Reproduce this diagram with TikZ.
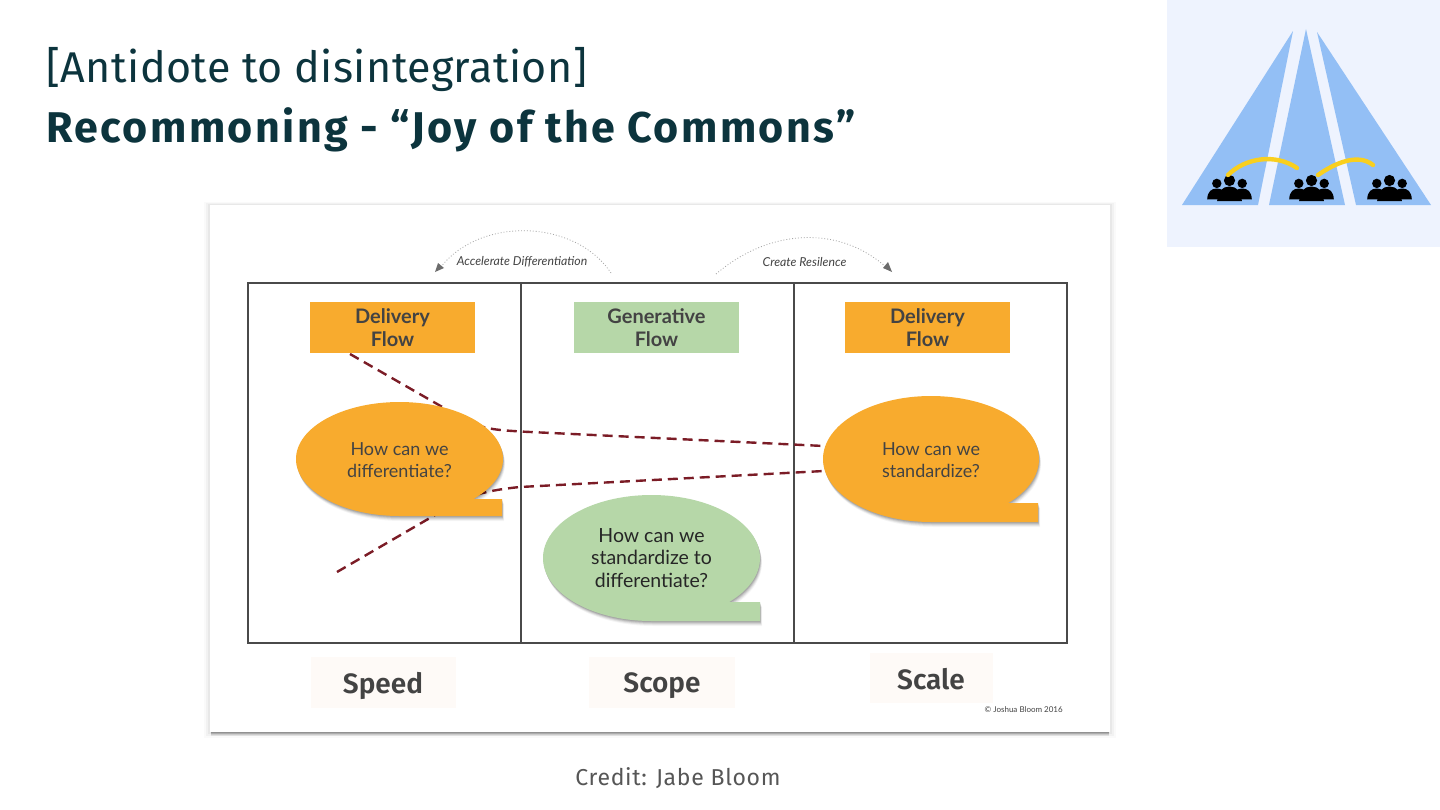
\documentclass[tikz,border=0pt]{standalone}
\usepackage{fontspec}
\setmainfont{Lato}
\newfontfamily\titlefont[LetterSpace=1.0]{Fira Sans}
\newfontfamily\creditfont[LetterSpace=3]{Fira Sans}
\newfontfamily\titlebold[LetterSpace=5.6]{Fira Sans}
\newfontfamily\labelfont{Fira Sans SemiBold}
\usetikzlibrary{shapes.geometric,arrows.meta}
\definecolor{orangeF}{HTML}{F8AB2E}
\definecolor{greenF}{HTML}{B6D7A8}
\definecolor{titleC}{HTML}{0C343D}
\definecolor{darkT}{HTML}{434343}
\definecolor{gridC}{HTML}{4A4A4A}
\definecolor{panelC}{HTML}{EEF3FE}
\definecolor{laneC}{HTML}{93BFF5}
\definecolor{paleC}{HTML}{FEFAF7}
\definecolor{dashC}{HTML}{7B1C26}
\definecolor{goldC}{HTML}{F9CF1E}
\newcommand{\fsz}[2]{\fontsize{\dimexpr#1pt*3/4\relax}{\dimexpr#2pt*3/4\relax}\selectfont}
\newcommand{\lowr}{\rule{0pt}{11.6pt}}
\tikzset{
  flowbox/.style={minimum width=123.75pt,minimum height=38.25pt,inner sep=0pt,align=center,text=darkT,font=\fsz{20}{23}\bfseries},
  bubble/.style={ellipse,inner sep=0pt,align=center,text=darkT,font=\fsz{18}{22}},
  floor/.style={inner sep=0pt,fill=paleC},
  floortext/.style={inner sep=0pt,text=darkT,font=\labelfont\fsz{28}{30}},
  flowdash/.style={draw=dashC,line width=1.8pt,dash pattern=on 7.5pt off 4.5pt},
  loopline/.style={draw=gray!70,line width=0.6pt,dash pattern=on 0.7pt off 1.5pt},
  looptext/.style={inner sep=0pt,text=darkT,font=\fsz{12.3}{14}\itshape},
  lane/.style={fill=laneC},
  bridge/.style={draw=goldC,line width=3.3pt,line cap=round}
}
% cx cy rx ry right top bottom notchx fill
\newcommand{\bubbleback}[9]{%
  \foreach \o/\a in {5/0.04,4/0.06,3/0.08,2/0.10,1/0.12}{
    \fill[black,opacity=\a,shift={(\o*0.4,\o)}] (#1,#2) ellipse [x radius=#3,y radius=#4]
      (#1,#2) -- (#8,#6) -- (#5,#6) -- (#5,#7) -- (#1,#7) -- cycle;
  }
  \fill[#9] (#1,#7) -- (#5,#7) -- (#5,#6) -- (#8,#6) -- (#1,#2) -- cycle;
}
\newcommand{\people}[1]{%
  \begin{scope}[shift={(#1,0)}]
    \fill[black] (-12.7,183.4) circle [radius=4.7] (12.7,183.4) circle [radius=4.7] (0,180.5) circle [radius=5.6];
    \fill[black] (-22.3,199.3) .. controls (-22,191.5) and (-18,188.5) .. (-12.7,188.5) .. controls (-8,188.5) and (-4,191) .. (-2,199.3) -- cycle;
    \fill[black] (22.3,199.3) .. controls (22,191.5) and (18,188.5) .. (12.7,188.5) .. controls (8,188.5) and (4,191) .. (2,199.3) -- cycle;
    \fill[black] (-12.3,201) .. controls (-12.3,191.5) and (-7,186.5) .. (0,186.5) .. controls (7,186.5) and (12.3,191.5) .. (12.3,201) -- cycle;
  \end{scope}
}
\begin{document}
\begin{tikzpicture}[x=0.75pt,y=-0.75pt]
\useasboundingbox (0,0) rectangle (1440,810);
\fill[white] (0,0) rectangle (1440,810);

% top-right emblem
\fill[panelC] (1167,0) rectangle (1440,247);
\fill[lane] (1293,31) -- (1258,205) -- (1182,205) -- cycle;
\fill[lane] (1306,29) -- (1345,205) -- (1269,205) -- cycle;
\fill[lane] (1317,32) -- (1431,205) -- (1356,205) -- cycle;
\people{1229.5}
\people{1311.5}
\people{1389.5}
\draw[bridge] (1228,175) .. controls (1245,158) and (1275,153) .. (1297,168);
\draw[bridge] (1318,175) .. controls (1335,163) and (1358,153) .. (1373,165);

% titles
\node[anchor=base west,inner sep=0pt,text=titleC,font=\titlefont\fsz{43}{46}] (title1) at (46,82) {[Antidote to disintegration]};
\node[anchor=base west,inner sep=0pt,text=titleC,font=\titlebold\bfseries\fsz{43}{46}] (title2) at (46,142) {Recommoning - “Joy of the Commons”};

% card
\foreach \o/\a in {6/0.02,4/0.03,2/0.04}{
  \fill[black,opacity=\a] (210-\o,205-\o*0.5) rectangle (1110+\o,732+\o);
}
\foreach \o/\a in {4/0.07,3/0.09,2/0.12,1/0.15}{
  \fill[black,opacity=\a] (211,720) rectangle (1109,732+\o);
}
\fill[white] (210,205) rectangle (1110,732);

% grid
\draw[gridC,line width=0.8pt] (248,283) rectangle (1067,643);
\draw[gridC,line width=0.8pt] (521,283) -- (521,643);
\draw[gridC,line width=0.8pt] (794,283) -- (794,643);

% flow boxes
\node[flowbox,fill=orangeF] (d1) at (392.5,327.5) {\raisebox{-0.75pt}{Delivery}\\\raisebox{-0.75pt}{Flow}};
\node[flowbox,fill=greenF] (g1) at (656.5,327.5) {\raisebox{-0.75pt}{Generative}\\\raisebox{-0.75pt}{Flow}};
\node[flowbox,fill=orangeF] (d2) at (927.5,327.5) {\raisebox{-0.75pt}{Delivery}\\\raisebox{-0.75pt}{Flow}};

% connectors
\coordinate (s1) at (350,354);
\coordinate (e1) at (824,446);
\coordinate (s2) at (337,572);
\coordinate (e2) at (824,471);
\draw[flowdash] (s1) -- (465,420) .. controls (485,430) and (500,430) .. (520,431.5) -- (e1);
\draw[flowdash] (s2) -- (435,515) .. controls (460,498) and (480,491) .. (520,487) -- (e2);

% bubbles
\bubbleback{399.5}{459}{103.5}{57}{502}{499}{516}{475}{orangeF}
\node[bubble,fill=orangeF,minimum width=155.25pt,minimum height=85.5pt] (b1) at (399.5,459) {\lowr How can we\\differentiate?};
\bubbleback{931}{459}{108}{63}{1038}{503}{522}{1008}{orangeF}
\node[bubble,fill=orangeF,minimum width=162pt,minimum height=94.5pt] (b3) at (931,459) {\lowr How can we\\standardize?};
\bubbleback{651.5}{558}{108.5}{63}{760}{602}{621}{727}{greenF}
\node[bubble,fill=greenF,text=black!85,minimum width=162.75pt,minimum height=94.5pt,font=\fsz{19.5}{22.5}] (b2) at (651.5,558) {How can we\\standardize to\\differentiate?};

% floors
\node[floor,minimum width=108.75pt,minimum height=38.25pt] (f1) at (383.5,682.5) {};
\node[floor,minimum width=109.5pt,minimum height=38.25pt] (f2) at (662,682.5) {};
\node[floor,minimum width=92.25pt,minimum height=37.5pt] (f3) at (931.5,678) {};
\node[floortext] (sp) at (383,686) {Speed};
\node[floortext] (sc) at (662,686) {Scope};
\node[floortext] (sl) at (931,679) {Scale};
\node[inner sep=0pt,text=darkT,font=\fsz{8}{10},anchor=east] (cr) at (1063,710) {© Joshua Bloom 2016};

% loops
\node[looptext] (acc) at (522,262) {Accelerate Differentiation};
\node[looptext] (res) at (804.5,262) {Create Resilence};
\coordinate (a1) at (611,273);
\coordinate (a2) at (435,272);
\coordinate (a3) at (716,274);
\coordinate (a4) at (892,272);
\draw[loopline] (a1) .. controls (575,219) and (480,216) .. (440,268);
\draw[loopline] (a3) .. controls (770,228) and (840,225) .. (887,268);
\fill[gray!85!black] (a2) -- (444,268) -- (438,263) -- cycle;
\fill[gray!85!black] (a4) -- (883,268) -- (888,262) -- cycle;

% credit
\node[inner sep=0pt,text=darkT!90,font=\creditfont\fsz{23}{26}] (credit) at (678,778) {Credit: Jabe Bloom};
\end{tikzpicture}
\end{document}
